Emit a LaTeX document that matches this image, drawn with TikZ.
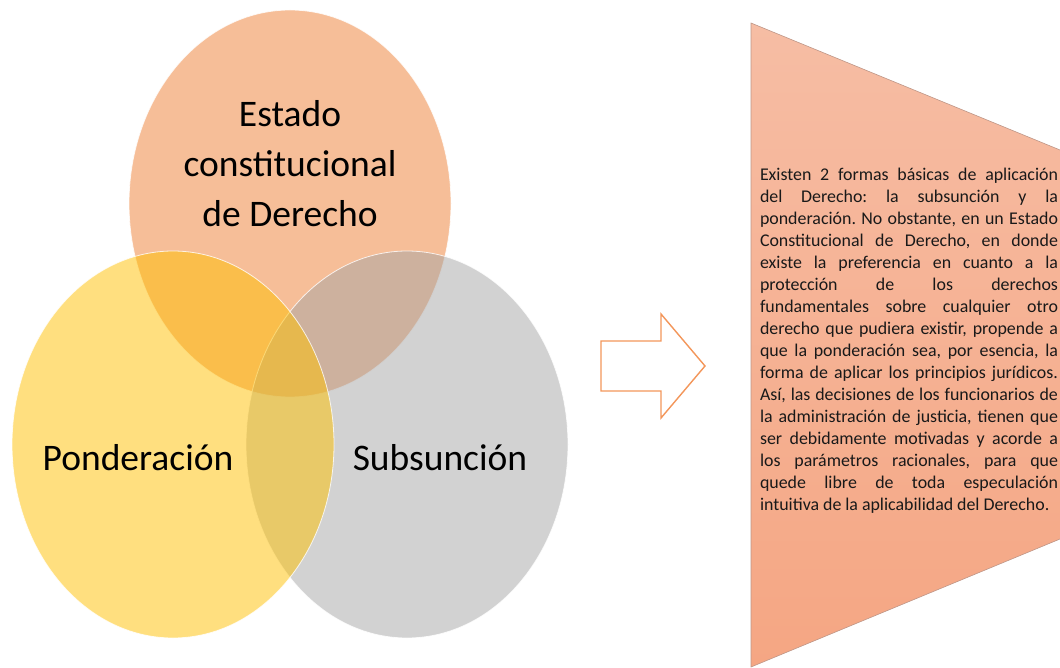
\documentclass[tikz,border=0pt]{standalone}
\usepackage{fontspec}
\setmainfont{Carlito}
\usetikzlibrary{shapes.geometric}
\definecolor{corange}{HTML}{ED7D31}
\definecolor{cyellow}{HTML}{FFC000}
\definecolor{cgray}{HTML}{A5A5A5}
\definecolor{arrowline}{RGB}{243,150,90}
\definecolor{boxtop}{RGB}{246,189,164}
\definecolor{boxbot}{RGB}{245,166,131}
\definecolor{boxline}{RGB}{190,150,135}
\newcommand\jline[1]{\par\noindent\hbox to 298pt{\spaceskip=0.22em plus 1fil minus 0.08em\relax #1}\par}
\newcommand\lline[1]{\par\noindent\hbox to 298pt{\spaceskip=0.22em plus 0.02em minus 0.08em\relax #1\hfil}\par}
\begin{document}
\begin{tikzpicture}[x=1pt,y=-1pt,
  venn/.style={ellipse, minimum width=322pt, minimum height=387pt, inner sep=0pt,
    fill opacity=0.5, draw=white, draw opacity=0.8, line width=0.8pt},
  vlabel/.style={inner sep=0pt, align=center, text=black, font=\fontsize{37.5}{50}\selectfont},
  arrowst/.style={draw=arrowline, line width=1.4pt, line join=miter},
  boxtxt/.style={inner sep=0pt, align=left, text width=298pt, text=black!90, font=\fontsize{17.9}{22}\selectfont\frenchspacing}]
\useasboundingbox (0,0) rectangle (1060,668);
% Venn ellipses
\node[venn, fill=corange] (estado) at (290,203.5) {};
\node[venn, fill=cgray] (subs) at (407,444.5) {};
\node[venn, fill=cyellow] (pond) at (173,444.5) {};
% labels
\node[vlabel] (lestado) at (290,164) {Estado\\constitucional\\de Derecho};
\node[vlabel] (lpond) at (138,458) {Ponderación};
\node[vlabel] (lsubs) at (440,458) {Subsunción};
% block arrow
\draw[arrowst] (601,341) -- (661,341) -- (661,314) -- (705,366) -- (661,418) -- (661,391) -- (601,391) -- cycle;
% text panel
\shade[top color=boxtop, bottom color=boxbot] (751,23) -- (1060,150) -- (1060,539) -- (751,667) -- cycle;
\draw[boxline, line width=0.6pt] (1060,150) -- (751,23) -- (751,667) -- (1060,539);
\node[boxtxt] (texto) at (909,336) {%
\jline{Existen 2 formas básicas de aplicación}
\jline{del Derecho: la subsunción y la}
\jline{ponderación. No obstante, en un Estado}
\jline{Constitucional de Derecho, en donde}
\jline{existe la preferencia en cuanto a la}
\jline{protección de los derechos}
\jline{fundamentales sobre cualquier otro}
\jline{derecho que pudiera existir, propende a}
\jline{que la ponderación sea, por esencia, la}
\jline{forma de aplicar los principios jurídicos.}
\jline{Así, las decisiones de los funcionarios de}
\jline{la administración de justicia, tienen que}
\jline{ser debidamente motivadas y acorde a}
\jline{los parámetros racionales, para que}
\jline{quede libre de toda especulación}
\lline{intuitiva de la aplicabilidad del Derecho.}};
\end{tikzpicture}
\end{document}
